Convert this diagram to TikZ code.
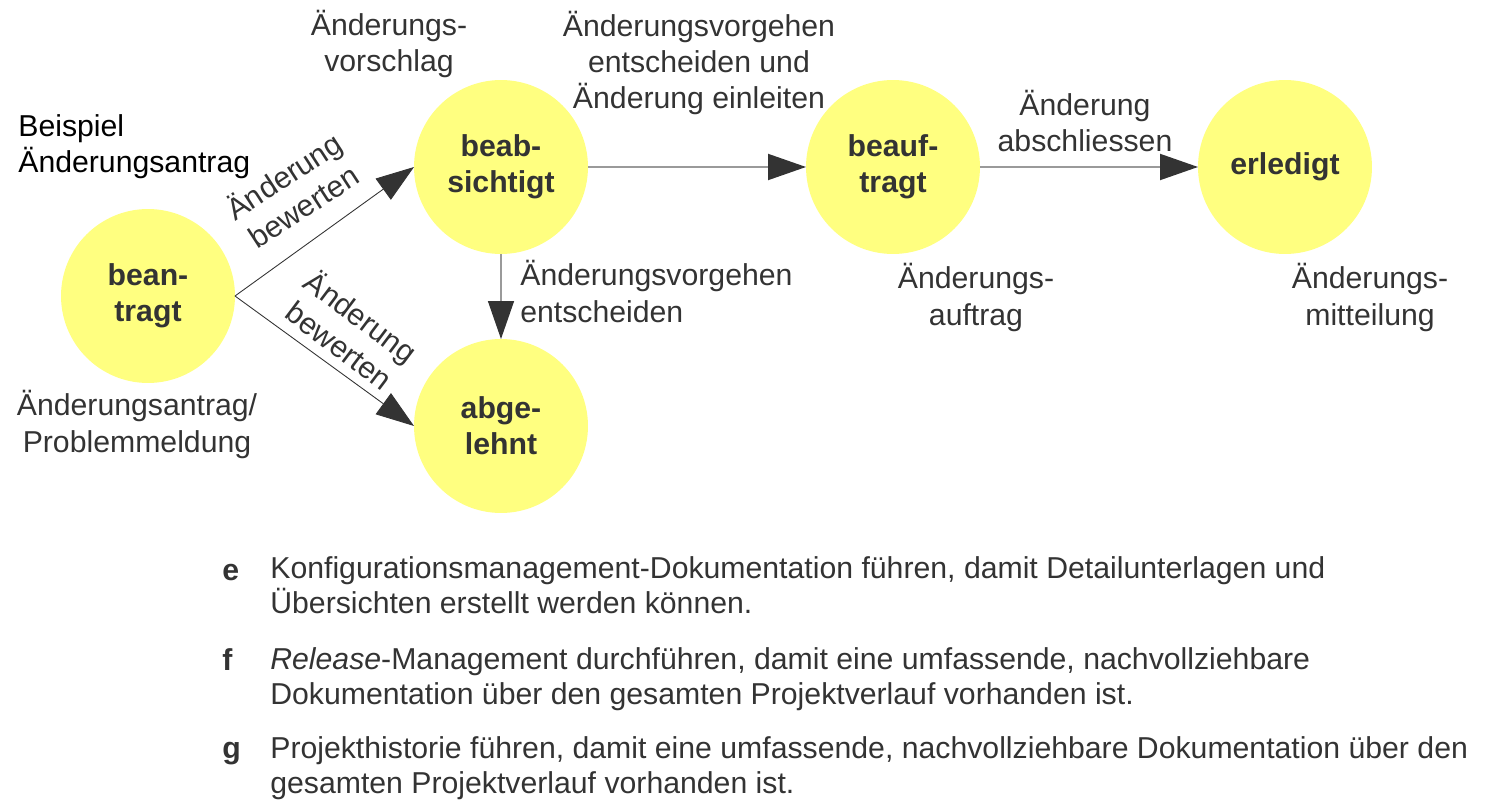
\documentclass[tikz,border=0pt]{standalone}
\usepackage{fontspec}
\setmainfont{Liberation Sans}
\usetikzlibrary{arrows.meta,positioning}
\definecolor{gelb}{HTML}{FFFF80}
\definecolor{dunkel}{HTML}{333333}
\definecolor{grau}{HTML}{9A9A9A}
\newcommand{\gs}{\fontsize{17.2}{20.5}\selectfont}
\newcommand{\gsl}{\fontsize{17.2}{19.4}\selectfont}
\tikzset{
  zust/.style={circle,fill=gelb,minimum size=3.48cm,inner sep=0pt,outer sep=0pt,align=center,font=\gs\bfseries,text=dunkel},
  txt/.style={align=center,text=dunkel,inner sep=0pt,anchor=base,font=\gs},
  txtl/.style={align=left,text=dunkel,inner sep=0pt,anchor=base west,font=\gs},
  spitze/.style={-{Triangle[length=0.76cm,width=0.52cm,color=dunkel]}},
  pf/.style={spitze,draw=grau,line width=1.1pt},
  pfd/.style={spitze,draw=dunkel,line width=0.5pt},
  buchst/.style={font=\gs\bfseries,text=dunkel,inner sep=0pt,anchor=base west},
  punkt/.style={txtl,font=\gsl},
}

\begin{document}
\begin{tikzpicture}[x=0.02cm,y=-0.02cm]
  \useasboundingbox (0,0) rectangle (1488,804);
  % Zustaende
  \node[zust] (bean) at (148,296) {bean-\\tragt};
  \node[zust] (beab) at (501,167) {beab-\\sichtigt};
  \node[zust] (abge) at (501,426) {abge-\\lehnt};
  \node[zust] (beauf) at (893,167) {beauf-\\tragt};
  \node[zust] (erl) at (1285,167) {erledigt};
  % Uebergaenge
  \draw[pfd] (bean.east) -- (beab.west);
  \draw[pfd] (bean.east) -- (abge.west);
  \draw[pf,line width=0.8pt] (beab.south) -- (abge.north);
  \draw[pf] (beab.east) -- (beauf.west);
  \draw[pf] (beauf.east) -- (erl.west);
  \node[txt,anchor=center,rotate=33] (bew1) at (293,190) {Änderung\\bewerten};
  \node[txt,anchor=center,rotate=-37] (bew2) at (351,330) {Änderung\\bewerten};
  \node[txt] (vorg1) at (699,109) {Änderungsvorgehen\\entscheiden und\\Änderung einleiten};
  \node[txtl] (vorg2) at (520,322) {Änderungsvorgehen\\entscheiden};
  \node[txt] (abschl) at (1085,152) {Änderung\\abschliessen};
  % Dokumente
  \node[txtl,text=black] (beisp) at (18,173) {Beispiel\\Änderungsantrag};
  \node[txt] (antrag) at (137,452) {Änderungsantrag/\\Problemmeldung};
  \node[txt] (vorschl) at (389,72) {Änderungs-\\vorschlag};
  \node[txt] (auftrag) at (976,325) {Änderungs-\\auftrag};
  \node[txt] (mitteil) at (1370,325) {Änderungs-\\mitteilung};
  % Liste
  \node[buchst] (le) at (222,580) {e};
  \node[punkt] (pe) at (270,613) {Konfigurationsmanagement-Dokumentation führen, damit Detailunterlagen und\\Übersichten erstellt werden können.};
  \node[buchst] (lf) at (222,670) {f};
  \node[punkt] (pf) at (270,704) {\textit{Release}-Management durchführen, damit eine umfassende, nachvollziehbare\\Dokumentation über den gesamten Projektverlauf vorhanden ist.};
  \node[buchst] (lg) at (222,758) {g};
  \node[punkt] (pg) at (270,793) {Projekthistorie führen, damit eine umfassende, nachvollziehbare Dokumentation über den\\gesamten Projektverlauf vorhanden ist.};
\end{tikzpicture}
\end{document}
